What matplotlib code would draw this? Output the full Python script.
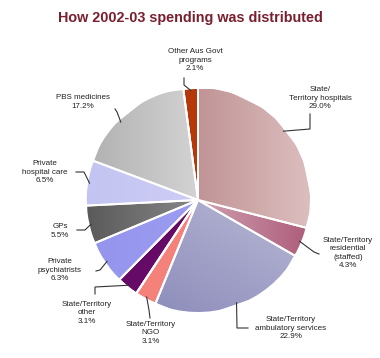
import numpy as np
import matplotlib
matplotlib.use('Agg')
import matplotlib.pyplot as plt
from matplotlib.colors import to_rgb

# Data (clockwise from 12 o'clock)
labels = ['State/\nTerritory hospitals\n29.0%',
          'State/Territory\nresidential\n(staffed)\n4.3%',
          'State/Territory\nambulatory services\n22.9%',
          'State/Territory\nNGO\n3.1%',
          'State/Territory\nother\n3.1%',
          'Private\npsychiatrists\n6.3%',
          'GPs\n5.5%',
          'Private\nhospital care\n6.5%',
          'PBS medicines\n17.2%',
          'Other Aus Govt\nprograms\n2.1%']
shares = [29.0, 4.3, 22.9, 3.1, 3.1, 6.3, 5.5, 6.5, 17.2, 2.1]

# gradient colours (start -> end, along direction in degrees)
colors = [('#a56a6e', '#dcbebe', 0),
          ('#f2e4e8', '#ad5c7a', 0),
          ('#8585b6', '#d2d2e6', 60),
          ('#f4827a', '#f4827a', 0),
          ('#650a66', '#650a66', 0),
          ('#9494ee', '#a4a4f4', 0),
          ('#5a5a5a', '#b4b4b4', 0),
          ('#c4c4f2', '#d6d6fa', 0),
          ('#b0b0b0', '#f6f6f6', 0),
          ('#b5380a', '#b5380a', 0)]

# layout in pixels (y measured from top)
W, H = 380, 358
cx, cy, R = 198, 200, 112
text_pos = [(320, 98), (348, 253), (291, 328), (151, 333), (87, 313),
            (60, 270), (60, 231), (45, 172), (83, 102), (195, 60)]
leaders = [[(310, 114), (310, 129)],
           [(319, 254), (314, 252)],
           [(248, 328), (237, 328)],
           [(150, 318), (149, 310)],
           [(95, 294), (95, 287)],
           [(96, 271), (100, 270)],
           [(77, 230), (85, 230)],
           [(76, 172), (84, 172)],
           [(115, 109), (117, 112)],
           [(184, 78), (184, 85)]]
anchor_frac = [0.49, 0.5, 0.48, 0.5, 0.5, 0.5, 0.5, 0.5, 0.4, 0.5]


def fy(y):
    return H - y


fig = plt.figure(figsize=(W / 100, H / 100), dpi=100)
ax = fig.add_axes([0, 0, 1, 1])
wedges, _ = ax.pie(shares, startangle=90, counterclock=False,
                   center=(cx, fy(cy)), radius=R,
                   colors=[c[0] for c in colors],
                   wedgeprops=dict(edgecolor='white', linewidth=1.4))
ax.set_xlim(0, W)
ax.set_ylim(0, H)
ax.set_aspect('equal')
ax.axis('off')

# gradient fills clipped to wedges
yy, xx = np.mgrid[0:1:200j, 0:1:200j]
for w, (c1, c2, ang) in zip(wedges, colors):
    if c1 == c2:
        continue
    a = np.deg2rad(ang)
    t = xx * np.cos(a) + yy * np.sin(a)
    t = (t - t.min()) / (t.max() - t.min())
    c1, c2 = np.array(to_rgb(c1)), np.array(to_rgb(c2))
    img = c1 + t[..., None] * (c2 - c1)
    im = ax.imshow(img, extent=(cx - R, cx + R, fy(cy) - R, fy(cy) + R),
                   origin='lower', zorder=w.get_zorder() + 0.1, interpolation='bilinear')
    im.set_clip_path(w)
# redraw white borders on top
for w in wedges:
    ax.add_patch(plt.Polygon(w.get_path().vertices, closed=True, fill=False,
                             edgecolor='white', linewidth=1.4, zorder=5,
                             transform=w.get_transform()))

# labels with elbow leader lines
start = 90.0
total = sum(shares)
for i, s in enumerate(shares):
    span = 360.0 * s / total
    ang = np.deg2rad(start - span * anchor_frac[i])
    start -= span
    rx, ry = cx + R * 0.98 * np.cos(ang), cy - R * 0.98 * np.sin(ang)
    pts = leaders[i] + [(rx, ry)]
    ax.plot([p[0] for p in pts], [fy(p[1]) for p in pts], color='#333333',
            linewidth=0.8, zorder=6)
    tx, ty = text_pos[i]
    ax.text(tx, fy(ty), labels[i], ha='center', va='center', fontsize=5.8,
            family='Liberation Sans', color='#222222', linespacing=1.25, zorder=7)

ax.text(W / 2, fy(18), 'How 2002-03 spending was distributed', ha='center', va='center',
        fontsize=10.4, fontweight='bold', family='Liberation Sans', color='#7a1f2e')

fig.savefig('out.png', dpi=100)
